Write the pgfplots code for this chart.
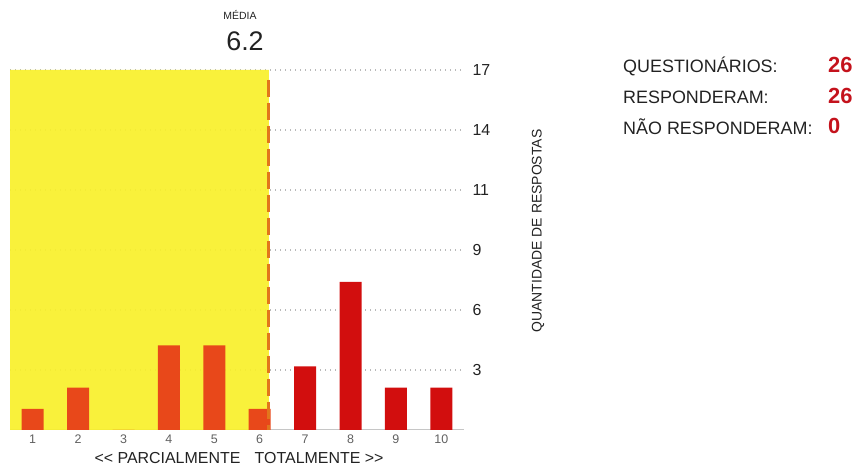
\documentclass[border=0pt]{standalone}
\usepackage{fontspec}
\setmainfont{Liberation Sans}
\usepackage{pgfplots}
\pgfplotsset{compat=1.18}
\definecolor{ylw}{HTML}{F8F02A}
\definecolor{barorange}{HTML}{E8481A}
\definecolor{barred}{HTML}{D20E0E}
\definecolor{numred}{HTML}{C4121C}
\definecolor{meanline}{HTML}{E2761C}
\definecolor{txt}{HTML}{222222}

\begin{document}
\begin{tikzpicture}[x=1bp,y=1bp]
\path (0,0) rectangle (859,473);
\begin{axis}[
  at={(10bp,43bp)}, anchor=south west,
  scale only axis, width=454bp, height=360bp,
  xmin=0.5, xmax=10.5, ymin=0, ymax=17,
  axis x line*=bottom, axis y line*=right,
  x axis line style={gray!45, line width=1bp, -},
  y axis line style={draw=none},
  xtick={1,...,10},
  ytick={2.83333,5.66667,8.5,11.33333,14.16667,17},
  yticklabels={3,6,9,11,14,17},
  major tick length=0pt,
  ymajorgrids,
  grid style={gray!55, line width=1.3bp, dash pattern=on 1.3bp off 3.7bp},
  xticklabel style={font=\fontsize{12.5}{12.5}\selectfont, text=gray!75!black, yshift=-1bp},
  yticklabel style={font=\fontsize{16}{16}\selectfont, text=txt, anchor=west, xshift=5bp},
  /pgf/number format/assume math mode=true,
  clip=false,
]
\addplot[sharp plot, fill=ylw, draw=none, fill opacity=0.92, forget plot]
  coordinates {(0.5,0) (0.5,17) (6.2,17) (6.2,0)} \closedcycle;
\addplot[ybar, bar width=22bp, bar shift=0pt, fill=barorange, draw=none]
  coordinates {(1,1) (2,2) (3,0) (4,4) (5,4) (6,1)};
\addplot[ybar, bar width=22bp, bar shift=0pt, fill=barred, draw=none]
  coordinates {(7,3) (8,7) (9,2) (10,2)};
\addplot[meanline, line width=3bp, dash pattern=on 17bp off 6bp]
  coordinates {(6.2,16.55) (6.2,0)};
\end{axis}
\node[font=\fontsize{10.5}{10.5}\selectfont, text=txt] at (240,458) {MÉDIA};
\node[font=\fontsize{27}{27}\selectfont, text=txt] at (245,432) {6.2};
\node[font=\fontsize{16}{16}\selectfont, text=txt] at (239,15) {<\kern0pt< PARCIALMENTE\hspace{0.9em}TOTALMENTE >\kern0pt>};
\node[font=\fontsize{14}{14}\selectfont, text=txt, rotate=90] at (538,242) {QUANTIDADE DE RESPOSTAS};
\node[font=\fontsize{18}{18}\selectfont, text=txt, anchor=west, inner sep=0pt] at (623,407) {QUESTIONÁRIOS:};
\node[font=\fontsize{18}{18}\selectfont, text=txt, anchor=west, inner sep=0pt] at (623,376) {RESPONDERAM:};
\node[font=\fontsize{18}{18}\selectfont, text=txt, anchor=west, inner sep=0pt] at (623,346) {NÃO RESPONDERAM:};
\node[font=\bfseries\fontsize{22}{22}\selectfont, text=numred, anchor=west, inner sep=0pt] at (828,408) {26};
\node[font=\bfseries\fontsize{22}{22}\selectfont, text=numred, anchor=west, inner sep=0pt] at (828,377) {26};
\node[font=\bfseries\fontsize{22}{22}\selectfont, text=numred, anchor=west, inner sep=0pt] at (828,347) {0};
\end{tikzpicture}
\end{document}
